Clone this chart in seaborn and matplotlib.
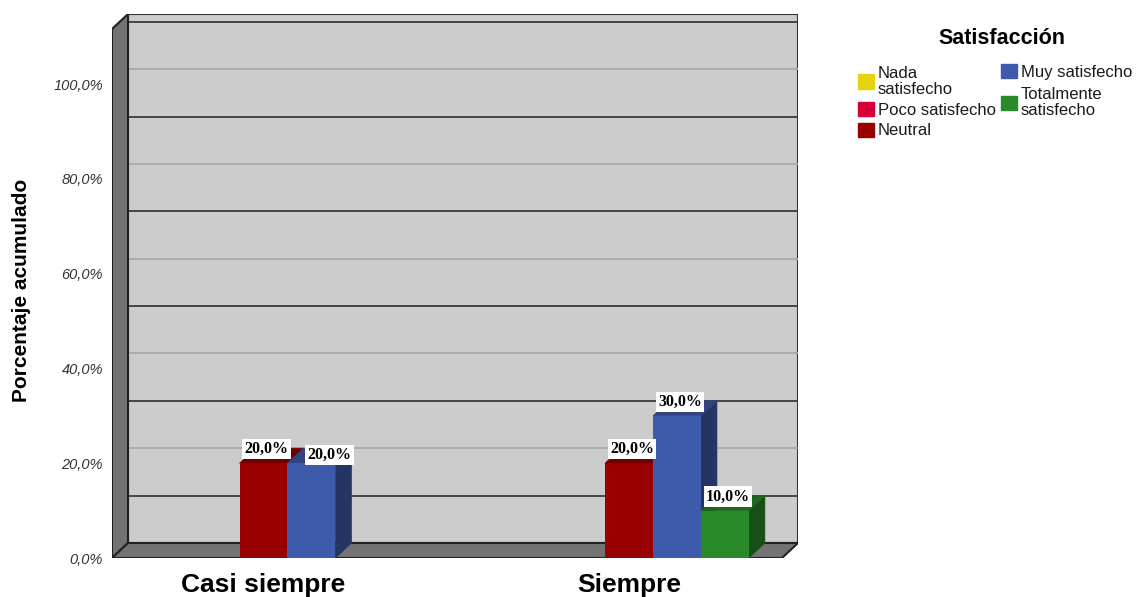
import matplotlib
matplotlib.use("Agg")
import matplotlib.pyplot as plt
import seaborn as sns
import pandas as pd
from matplotlib.patches import Polygon, Patch
from matplotlib.colors import to_rgb

# Datos del grafico (porcentaje acumulado)
categorias = ["Casi siempre", "Siempre"]
niveles = ["Nada satisfecho", "Poco satisfecho", "Neutral", "Muy satisfecho", "Totalmente satisfecho"]
etiquetas_leyenda = ["Nada\nsatisfecho", "Poco satisfecho", "Neutral", "Muy satisfecho", "Totalmente\nsatisfecho"]
casi_siempre = [0, 0, 20, 20, 0]
siempre = [0, 0, 20, 30, 10]
colores = ["#e3d40f", "#d8003a", "#990000", "#3e5aaa", "#288a28"]
ticks_y = [0, 20, 40, 60, 80, 100]
grid_claro = [20, 40, 60, 80, 100]
grid_oscuro = [10, 30, 50, 70, 90, 110]

df = pd.DataFrame({
    "frecuencia": [categorias[0]] * len(niveles) + [categorias[1]] * len(niveles),
    "satisfaccion": niveles * 2,
    "porcentaje": casi_siempre + siempre,
})

sns.set_theme(style="white")
plt.rcParams["font.family"] = ["Liberation Sans", "DejaVu Sans"]
plt.rcParams["text.color"] = "black"

W, H = 1137, 597
fig = plt.figure(figsize=(W / 100, H / 100), dpi=100)
# area del grafico en pixeles: x 112..798, y 14..558
ax = fig.add_axes([112 / W, (H - 558) / H, 686 / W, 544 / H])

X_MIN, X_MAX = -0.4145, 1.4624
Y_MAX = 114.8
PX_X = 686 / (X_MAX - X_MIN)
PX_Y = 544 / Y_MAX
DX = 16 / PX_X   # profundidad 3D en unidades de datos
DY = 15 / PX_Y

gris_pared = "#cccccc"
gris_oscuro = "#737373"

# pared del fondo
ax.add_patch(Polygon([(X_MIN + DX, DY), (X_MAX, DY), (X_MAX, Y_MAX), (X_MIN + DX, Y_MAX)],
                     closed=True, fc=gris_pared, ec="#333333", lw=1.5, zorder=1))
for v in grid_claro:
    ax.plot([X_MIN + DX, X_MAX], [v + DY, v + DY], color="#a6a6a6", lw=1.2, zorder=2)
for v in grid_oscuro:
    ax.plot([X_MIN + DX, X_MAX], [v + DY, v + DY], color="#3a3a3a", lw=1.3, zorder=2)
# pared izquierda y piso
ax.add_patch(Polygon([(X_MIN, 0), (X_MIN + DX, DY), (X_MIN + DX, Y_MAX), (X_MIN, Y_MAX - DY)],
                     closed=True, fc=gris_oscuro, ec="#222222", lw=1.5, zorder=3))
ax.add_patch(Polygon([(X_MIN, 0), (X_MAX - DX, 0), (X_MAX, DY), (X_MIN + DX, DY)],
                     closed=True, fc=gris_oscuro, ec="#222222", lw=1.5, zorder=3))

sns.barplot(data=df, x="frecuencia", y="porcentaje", hue="satisfaccion",
            order=categorias, hue_order=niveles, palette=dict(zip(niveles, colores)),
            width=0.656, saturation=1, errorbar=None, legend=False, linewidth=0, ax=ax)

bars = sorted([p for c in ax.containers for p in c], key=lambda p: p.get_x())
prev = None
for i, bar in enumerate(bars):
    h = bar.get_height()
    if h <= 0:
        bar.set_visible(False)
        prev = None
        continue
    x0 = bar.get_x()
    x1 = x0 + bar.get_width()
    base = to_rgb(bar.get_facecolor())
    lado = [c * 0.58 for c in base]
    techo = [c * 0.75 for c in base]
    z = 10 + 3 * i
    ax.add_patch(Polygon([(x1, 0), (x1 + DX, DY), (x1 + DX, h + DY), (x1, h)],
                         closed=True, fc=lado, ec=lado, lw=0.5, zorder=z))
    ax.add_patch(Polygon([(x0, h), (x1, h), (x1 + DX, h + DY), (x0 + DX, h + DY)],
                         closed=True, fc=techo, ec=techo, lw=0.5, zorder=z + 1))
    bar.set_zorder(z + 2)

    # evitar que se monten las etiquetas de barras vecinas de igual altura
    offset = (18, 8) if prev == h else (3, 14)
    ax.annotate(f"{h:.1f}%".replace(".", ","), xy=((x0 + x1) / 2, h),
                xytext=offset, textcoords="offset pixels", ha="center", va="center",
                fontsize=11.5, fontweight="bold", family="Liberation Serif",
                bbox=dict(boxstyle="square,pad=0.14", fc="white", ec="none"), zorder=100)
    prev = h

ax.set_xlim(X_MIN, X_MAX)
ax.set_ylim(0, Y_MAX)
for s in ax.spines.values():
    s.set_visible(False)
ax.patch.set_visible(False)

ax.set_yticks(ticks_y)
ax.set_yticklabels([f"{v:.1f}%".replace(".", ",") for v in ticks_y],
                   fontstyle="italic", fontsize=10.5, color="#333333")
ax.tick_params(axis="y", length=0, pad=6.5)
ax.tick_params(axis="x", length=0, pad=10.5)
for t in ax.get_xticklabels():
    t.set_fontsize(19)
    t.set_fontweight("bold")
    t.set_color("black")

ax.set_xlabel("")
ax.set_ylabel("Porcentaje acumulado", fontsize=15, fontweight="bold", color="black")
ax.yaxis.set_label_coords((31 - 112) / 686, 0.4926)

# leyenda: titulo aparte y una leyenda por columna (cada columna se apila por su cuenta)
fig.text(1002 / W, 1 - 38 / H, "Satisfacción", ha="center", va="center",
         fontsize=15.5, fontweight="bold", color="black")
handles = [Patch(fc=c, ec=c) for c in colores]
columnas = [(slice(0, 3), 858, 66, 0.3), (slice(3, 5), 1001, 64, 0.45)]
for sl, x_px, y_px, espacio in columnas:
    leg = fig.legend(handles[sl], etiquetas_leyenda[sl], loc="upper left",
                     bbox_to_anchor=(x_px / W, 1 - y_px / H),
                     frameon=False, fontsize=12, handlelength=0.95, handleheight=0.95,
                     handletextpad=0.25, labelspacing=espacio, borderpad=0, borderaxespad=0)
    for t in leg.get_texts():
        t.set_color("#1a1a1a")
        t.set_linespacing(1.05)

fig.savefig("out.png", dpi=100)
